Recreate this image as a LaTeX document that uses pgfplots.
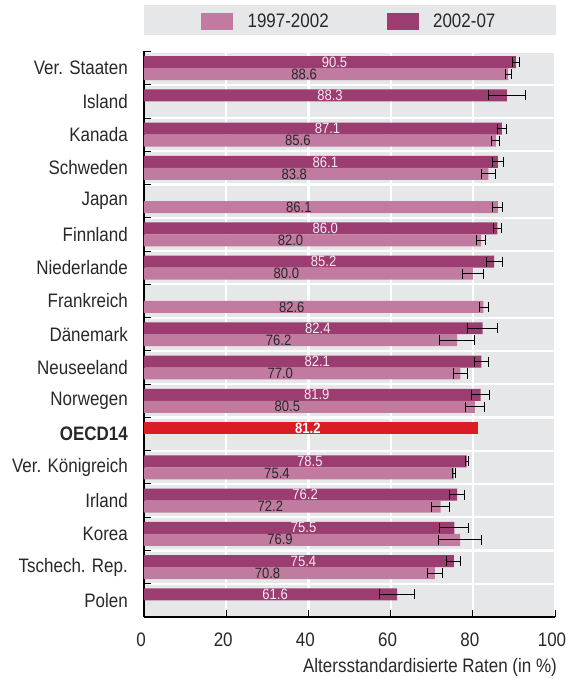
\documentclass[border=0pt]{standalone}
\usepackage{pgfplots}
\pgfplotsset{compat=1.18}
\usepackage{pgfplotstable}
\usepackage{fontspec}
\setmainfont{Liberation Sans}[FakeStretch=0.87]
\definecolor{lightc}{RGB}{193,123,160}
\definecolor{darkc}{RGB}{155,61,112}
\definecolor{oecdred}{RGB}{220,28,36}
\definecolor{bggray}{RGB}{230,231,233}
\definecolor{textc}{RGB}{40,40,40}
\definecolor{labw}{RGB}{248,234,242}

% 2002-07
\pgfplotstableread{
y v e
16 90.5 0.8
15 88.3 4.4
14 87.1 1.0
13 86.1 1.4
11 86.0 1.0
10 85.2 2.0
8 82.4 3.7
7 82.1 1.6
6 81.9 2.2
4 78.5 0.4
3 76.2 1.8
2 75.5 3.5
1 75.4 1.7
0 61.6 4.2
}\darktab

% 1997-2002
\pgfplotstableread{
y v e
16 88.6 0.75
14 85.6 1.0
13 83.8 1.6
12 86.1 1.2
11 82.0 1.1
10 80.0 2.5
9 82.6 1.1
8 76.2 4.2
7 77.0 1.7
6 80.5 2.3
4 75.4 0.3
3 72.2 2.2
2 76.9 5.2
1 70.8 1.9
}\lighttab

% OECD14
\pgfplotstableread{
y v
5 81.2
}\oecdtab

\newcommand{\bigf}{\fontsize{19.5bp}{22bp}\selectfont}
\newcommand{\smallf}{\fontsize{15bp}{17bp}\selectfont}

\begin{document}
\begin{tikzpicture}
\begin{axis}[
  at={(0,0)}, anchor=south west,
  scale only axis, width=411bp, height=565.5bp,
  xmin=0, xmax=100, ymin=-0.5, ymax=16.5,
  axis background/.style={fill=bggray},
  axis lines*=left,
  axis line style={black, line width=1.3bp},
  clip=false,
  tick align=inside,
  major tick length=7bp,
  tick style={black, line width=1bp},
  xtick={0,20,40,60,80,100},
  xticklabels={0,20,40,60,80,100},
  ytick={0.5,1.5,...,16.5},
  yticklabels={},
  extra y ticks={0,1,...,16},
  extra y tick labels={Polen,Tschech. Rep.,Korea,Irland,Ver. Königreich,\textbf{OECD14},Norwegen,Neuseeland,Dänemark,Frankreich,Niederlande,Finnland,Japan,Schweden,Kanada,Island,Ver. Staaten},
  extra y tick style={major tick length=0pt, grid=none},
  xmajorgrids, ymajorgrids,
  major grid style={white, line width=2.2bp},
  yticklabel style={font=\bigf, text=textc, inner sep=0pt, xshift=-16bp},
  xticklabel style={font=\bigf, text=textc, inner sep=0pt, yshift=-16bp, xshift=-3bp},
  xlabel={Altersstandardisierte Raten (in \%)},
  xlabel style={at={(axis description cs:1,0)}, anchor=north east, inner sep=0pt, yshift=-41bp, xshift=2bp, font=\bigf, text=textc},
  bar width=0.36,
  legend style={at={(0,1)}, anchor=west, xshift=57bp, yshift=30.5bp, draw=none, fill=none, inner sep=0pt, column sep=0pt,
    nodes={inner sep=0pt, font=\bigf, text=textc},
    /tikz/every odd column/.append style={column sep=15bp},
    /tikz/every even column/.append style={column sep=58bp}},
  legend columns=2,
  errstyle/.style={forget plot, only marks, mark=*, mark size=0pt, mark options={draw=none, fill=none},
    error bars/.cd, x dir=both, x explicit, error mark=|,
    error bar style={black, line width=0.9bp},
    error mark options={black, line width=0.9bp, mark size=5bp}},
]
\fill[bggray] ([yshift=16.5bp]rel axis cs:0,1) rectangle ([yshift=46.5bp, xshift=1bp]rel axis cs:1,1);

\addlegendimage{legend image code/.code={\fill[lightc] (0bp,-8bp) rectangle (31bp,8bp);}}
\addlegendentry{1997-2002}
\addlegendimage{legend image code/.code={\fill[darkc] (0bp,-8bp) rectangle (31bp,8bp);}}
\addlegendentry{2002-07}

% bars 2002-07
\addplot[forget plot, xbar, bar shift=0.18, fill=darkc, draw=none]
  table[x=v, y=y] {\darktab};
% bars 1997-2002
\addplot[forget plot, xbar, bar shift=-0.18, fill=lightc, draw=none]
  table[x=v, y=y] {\lighttab};
% OECD
\addplot[forget plot, xbar, bar shift=0.18, fill=oecdred, draw=none]
  table[x=v, y=y] {\oecdtab};

% error bars (confidence intervals)
\addplot[errstyle] table[x=v, y expr=\thisrow{y}+0.18, x error=e] {\darktab};
\addplot[errstyle] table[x=v, y expr=\thisrow{y}-0.18, x error=e] {\lighttab};

% value labels
\addplot[forget plot, only marks, mark=*, mark size=0pt, mark options={draw=none, fill=none},
  nodes near coords, point meta=explicit symbolic,
  every node near coord/.append style={font=\smallf, text=labw, anchor=center, inner sep=0pt, xshift=4.5bp}]
  table[x expr=\thisrow{v}/2, y expr=\thisrow{y}+0.18, meta=v] {\darktab};
\addplot[forget plot, only marks, mark=*, mark size=0pt, mark options={draw=none, fill=none},
  nodes near coords, point meta=explicit symbolic,
  every node near coord/.append style={font=\smallf, text=textc, anchor=center, inner sep=0pt, xshift=-22bp}]
  table[x expr=\thisrow{v}/2, y expr=\thisrow{y}-0.18, meta=v] {\lighttab};
\addplot[forget plot, only marks, mark=*, mark size=0pt, mark options={draw=none, fill=none},
  nodes near coords, point meta=explicit symbolic,
  every node near coord/.append style={font=\smallf\bfseries, text=white, anchor=center, inner sep=0pt, xshift=-3bp}]
  table[x expr=\thisrow{v}/2, y expr=\thisrow{y}+0.18, meta=v] {\oecdtab};
\end{axis}
\pgfresetboundingbox
\path[use as bounding box] ([shift={(-144bp,-62bp)}]current axis.south west) rectangle ([shift={(426bp,617bp)}]current axis.south west);
\end{tikzpicture}
\end{document}
